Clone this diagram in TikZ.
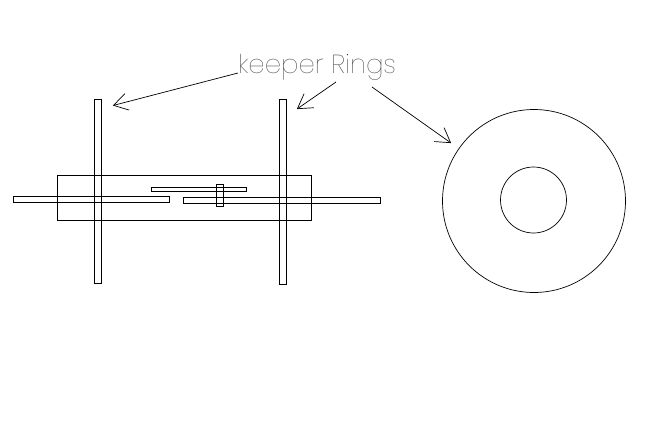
\documentclass[tikz,border=0pt]{standalone}
\usepackage{fontspec}
\setsansfont{Poppins}[UprightFont=* Thin]
\usetikzlibrary{arrows}
\pgfarrowsdeclare{barb}{barb}
{\pgfarrowsleftextend{-14pt}\pgfarrowsrightextend{0.5pt}}
{\pgfsetmiterjoin
 \pgfpathmoveto{\pgfpoint{-14pt}{8.5pt}}
 \pgfpathlineto{\pgfpointorigin}
 \pgfpathlineto{\pgfpoint{-14pt}{-8.5pt}}
 \pgfusepathqstroke}
\tikzset{
  part/.style={draw, line width=0.7pt, inner sep=0pt, outer sep=0pt},
  pointer/.style={-barb, line width=0.7pt},
}
\begin{document}
\begin{tikzpicture}[x=1pt, y=-1pt]
\useasboundingbox (0,0) rectangle (646,423);

\node[part, minimum width=7pt, minimum height=184pt] (LeftRing) at (98,191) {};
\node[part, minimum width=7pt, minimum height=185pt] (RightRing) at (282.5,191.5) {};
\node[part, minimum width=253.5pt, minimum height=45pt] (Body) at (184.25,197.5) {};
\node[part, minimum width=156.5pt, minimum height=6pt] (LeftShaft) at (91.25,199) {};
\node[part, minimum width=197pt, minimum height=6pt] (RightShaft) at (281.5,200) {};
\node[part, minimum width=95pt, minimum height=3.5pt] (Spring) at (198.5,189.25) {};
\node[part, minimum width=6.5pt, minimum height=22pt] (Pin) at (219.75,195) {};

\node[part, circle, minimum size=183pt] (Outer) at (534,201) {};
\node[part, circle, minimum size=66pt] (Inner) at (533.5,200) {};

\node[inner sep=0pt, anchor=base west, text=black!80, font=\sffamily\fontsize{26}{26}\selectfont] (Keeper) at (238,73) {keeper Rings};

\coordinate (LeftTip) at (113,105.5);
\coordinate (RightTip) at (297,109);
\coordinate (OuterTip) at (451,143);
\coordinate (RingsA) at (336,82);
\coordinate (RingsB) at (372,87);

\draw[pointer] (Keeper.base west) -- (LeftTip);
\draw[pointer] (RingsA) -- (RightTip);
\draw[pointer] (RingsB) -- (OuterTip);

\end{tikzpicture}
\end{document}
